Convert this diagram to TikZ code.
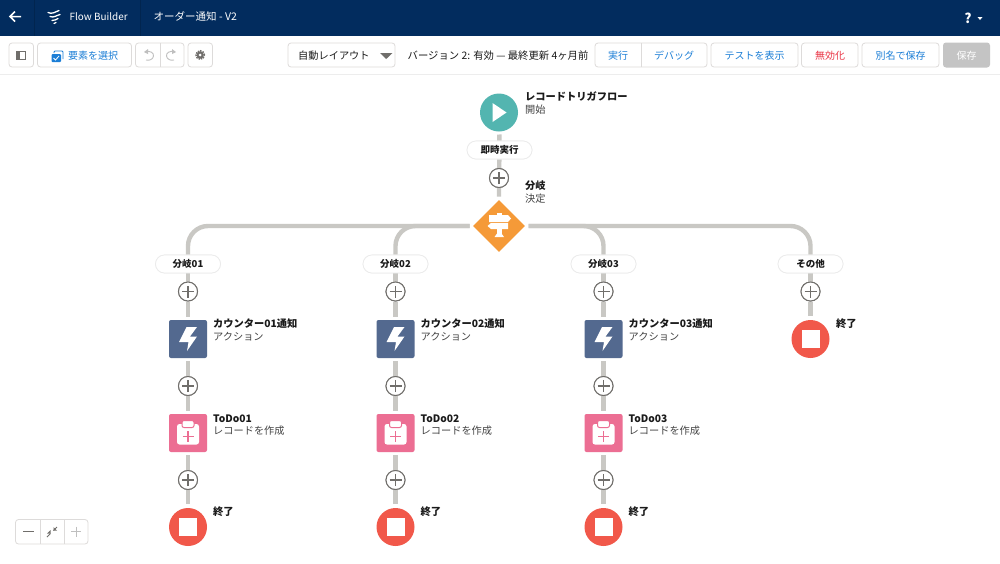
\documentclass[tikz,border=0pt]{standalone}
\usepackage{fontspec}
\setmainfont{Noto Sans CJK JP}
\usetikzlibrary{shapes.geometric}
\definecolor{navy}{HTML}{022C5E}
\definecolor{navyline}{HTML}{01254F}
\definecolor{btn}{HTML}{DDDBDA}
\definecolor{blue}{HTML}{1B7ED6}
\definecolor{wire}{HTML}{C9C8C4}
\definecolor{teal}{HTML}{53B5B0}
\definecolor{orange}{HTML}{F59A38}
\definecolor{slate}{HTML}{53698F}
\definecolor{pinkb}{HTML}{EC6E93}
\definecolor{redc}{HTML}{F1584A}
\definecolor{redt}{HTML}{EA3344}
\definecolor{txt}{HTML}{1A1A1A}
\definecolor{sub}{HTML}{444444}
\definecolor{grayi}{HTML}{706E6B}
\tikzset{
  btnbox/.style={draw=btn,line width=.8pt,rounded corners=3pt,fill=white},
  btxt/.style={font=\fontsize{10}{12}\selectfont,text=blue,inner sep=0pt},
  wireline/.style={draw=wire,line width=4.4pt},
  startc/.style={circle,fill=teal,minimum size=38pt,inner sep=0pt,outer sep=3pt},
  endc/.style={circle,fill=redc,minimum size=38pt,inner sep=0pt,outer sep=4pt},
  plusc/.style={circle,draw=grayi,line width=1pt,fill=white,minimum size=19pt,inner sep=0pt},
  pill/.style={rounded corners=9pt,draw=black!8,line width=.7pt,fill=white,minimum width=65pt,minimum height=18pt,inner sep=0pt,font=\fontsize{9.5}{11}\selectfont\bfseries,text=txt},
  diam/.style={diamond,fill=orange,minimum width=54pt,minimum height=54pt,inner sep=0pt,outer sep=2.5pt},
  actbox/.style={rounded corners=2pt,fill=slate,minimum size=38pt,inner sep=0pt,outer sep=3pt},
  todobox/.style={rounded corners=2pt,fill=pinkb,minimum size=38pt,inner sep=0pt,outer sep=3pt},
  title/.style={anchor=west,inner sep=0pt,font=\fontsize{10.25}{12}\selectfont\bfseries,text=txt},
  subt/.style={anchor=west,inner sep=0pt,font=\fontsize{10.2}{12}\selectfont,text=sub},
}
\newcommand{\plusmark}[1]{\draw[grayi,line width=1.1pt] ([xshift=-6pt]#1.center)--([xshift=6pt]#1.center) ([yshift=-6pt]#1.center)--([yshift=6pt]#1.center);}
\newcommand{\stopmark}[1]{\fill[white] ([shift={(-9pt,-9pt)}]#1.center) rectangle ([shift={(9pt,9pt)}]#1.center);}
\newcommand{\bolticon}[1]{\fill[white,shift={(#1.center)}] (-1.5,-12)--(9,-12)--(2,-2.5)--(9,-2.5)--(-1,12)--(0.5,3)--(-9,3)--cycle;}
\newcommand{\clipicon}[1]{\begin{scope}[shift={(#1.center)}]
  \fill[white,rounded corners=2.5pt] (-11,-9) rectangle (11,11.5);
  \filldraw[fill=white,draw=pinkb,line width=1pt,rounded corners=2pt] (-6,-12.5) rectangle (6,-5.5);
  \draw[pinkb,line width=1.3pt] (-5.5,3.5)--(5.5,3.5) (0,-2)--(0,9);
\end{scope}}
\begin{document}
\begin{tikzpicture}[x=1pt,y=-1pt]
\useasboundingbox (0,0) rectangle (1000,563);
\fill[white] (0,0) rectangle (1000,563);
% header
\fill[navy] (0,0) rectangle (1000,36);
\draw[navyline,line width=.7pt] (34.5,0)--(34.5,36) (140.5,0)--(140.5,36);
\draw[white,line width=1.5pt] (21,16.5)--(10,16.5) (15,11.5)--(10,16.5)--(15,21.5);
\draw[white,line width=1.3pt,line cap=round] (48,12.5)..controls (52,14.5) and (55,12)..(59,10.5) (50,16.5)..controls (54,18) and (56,15.5)..(60,14.5) (52,20.5)..controls (55,21) and (56,19)..(58,18.5) (54,23.5)--(56,22.5);
\node[anchor=west,inner sep=0pt,text=white,font=\fontsize{9.9}{11}\selectfont] (app) at (69.5,16.5) {Flow Builder};
\node[anchor=west,inner sep=0pt,text=white,font=\fontsize{10.5}{12}\selectfont] (ttl) at (153.5,16.5) {オーダー通知 - V2};
\node[inner sep=0pt,text=white,font=\fontsize{13.5}{14}\selectfont\bfseries] (help) at (968,18.5) {?};
\fill[white] (977.5,17)--(982.5,17)--(980,20)--cycle;
% toolbar
\fill[black!7] (0,73.5) rectangle (1000,75);
\draw[btnbox] (9,43) rectangle (33.5,67);
\draw[grayi,line width=.8pt] (16.5,51) rectangle (25.5,59);
\fill[grayi] (16.5,51) rectangle (20,59);
\draw[btnbox] (37.5,43) rectangle (131.5,67);
\fill[blue,rounded corners=1pt] (51.5,54) rectangle (61,62);
\draw[blue,line width=.9pt,rounded corners=1pt] (54,53)--(54,51)--(63,51)--(63,59);
\draw[white,line width=.8pt] (53.5,58)--(55.5,60)--(59,56);
\node[btxt,anchor=west] (sel) at (68,55.5) {要素を選択};
\draw[btnbox] (135.5,43) rectangle (184,67);
\draw[btn,line width=.8pt] (160,43)--(160,67);
\draw[black!25,line width=.9pt] (145,52)..controls (150,50) and (154,53)..(153.5,56)..controls (153,59) and (150,61)..(146,60);
\fill[black!25] (144,52)--(148,49)--(148,54)--cycle;
\draw[black!25,line width=.9pt] (175,52)..controls (170,50) and (166,53)..(166.5,56)..controls (167,59) and (170,61)..(174,60);
\fill[black!25] (176,52)--(172,49)--(172,54)--cycle;
\draw[btnbox] (188,43) rectangle (212.5,67);
\fill[grayi] (200.2,55) circle (3.6pt);
\draw[grayi,line width=1.5pt,densely dotted] (200.2,55) circle (4.2pt);
\fill[white] (200.2,55) circle (1.5pt);
\draw[btnbox] (288,43) rectangle (395,67);
\node[anchor=west,inner sep=0pt,text=txt,font=\fontsize{10.2}{12}\selectfont] (lay) at (298,55.5) {自動レイアウト};
\fill[grayi] (380,53)--(392.5,53)--(386.2,59)--cycle;
\node[anchor=west,inner sep=0pt,text=txt,font=\fontsize{10.35}{12}\selectfont] (ver) at (407.5,55.5) {バージョン 2: 有効 — 最終更新 4ヶ月前};
\draw[btnbox] (595,43) rectangle (707,67);
\draw[btn,line width=.8pt] (641,43)--(641,67);
\node[btxt] (run) at (618,55.5) {実行};
\node[btxt] (dbg) at (674,55.5) {デバッグ};
\draw[btnbox] (711,43) rectangle (798,67);
\node[btxt] (tst) at (754.5,55.5) {テストを表示};
\draw[btnbox] (801.5,43) rectangle (858,67);
\node[btxt,text=redt] (dis) at (830,55.5) {無効化};
\draw[btnbox] (862,43) rectangle (939,67);
\node[btxt] (sas) at (900.5,55.5) {別名で保存};
\fill[black!23,rounded corners=3pt] (943,42.5) rectangle (990,67.5);
\node[btxt,text=white] (sav) at (966.5,55.5) {保存};
% flow nodes
\node[startc] (start) at (499,112.5) {};
\node[pill] (imm) at (499.5,150) {};
\node[plusc] (p0) at (499,178) {};
\node[diam] (dec) at (499,226) {};
\foreach \n/\x in {a/188,b/395.5,c/603.5,d/810.5}{
  \node[pill] (pill\n) at (\x,264) {};
  \node[plusc] (p1\n) at (\x,291.5) {};
}
\foreach \n/\x in {a/188,b/395.5,c/603.5}{
  \node[actbox] (act\n) at (\x,339) {};
  \node[plusc] (p2\n) at (\x,386) {};
  \node[todobox] (todo\n) at (\x,433) {};
  \node[plusc] (p3\n) at (\x,480) {};
  \node[endc] (end\n) at (\x,527) {};
}
\node[endc] (endd) at (810.5,339) {};
% connectors
\path[wireline] (start)--(imm) (imm)--(p0) (p0)--(dec);
\path[wireline,rounded corners=20pt] (dec.west)-|(pilla.north);
\path[wireline,rounded corners=20pt] (dec.west)-|(pillb.north);
\path[wireline,rounded corners=20pt] (dec.east)-|(pillc.north);
\path[wireline,rounded corners=20pt] (dec.east)-|(pilld.north);
\foreach \n in {a,b,c}{
  \path[wireline] (pill\n)--(p1\n) (p1\n)--(act\n) (act\n)--(p2\n) (p2\n)--(todo\n) (todo\n)--(p3\n) (p3\n)--(end\n);
}
\path[wireline] (pilld)--(p1d) (p1d)--(endd);
% redraw on top
\node[pill] at (imm) {即時実行};
\node[plusc] at (p0) {}; \plusmark{p0}
\node[pill] at (pilla) {分岐01};
\node[pill] at (pillb) {分岐02};
\node[pill] at (pillc) {分岐03};
\node[pill] at (pilld) {その他};
\foreach \n in {a,b,c,d}{ \node[plusc] at (p1\n) {}; \plusmark{p1\n} }
\foreach \n in {a,b,c}{
  \node[plusc] at (p2\n) {}; \plusmark{p2\n}
  \node[plusc] at (p3\n) {}; \plusmark{p3\n}
  \bolticon{act\n}
  \clipicon{todo\n}
  \stopmark{end\n}
}
\stopmark{endd}
% start icon
\fill[white,shift={(start.center)}] (-6.5,-9.5)--(7.5,0)--(-6.5,9.5)--cycle;
% decision icon
\begin{scope}[shift={(dec.center)}]
  \fill[white] (-10,-11)--(9,-11)--(12,-7.5)--(9,-4)--(-10,-4)--cycle;
  \fill[white] (-8,-3)--(9,-3)--(9,3)--(-8,3)--(-11.5,0)--cycle;
  \fill[white] (-2,-13.5) rectangle (2.5,-11);
  \fill[white] (-2,3) rectangle (2.5,8);
  \fill[white] (-4.5,11)--(-2,7.5)--(2.5,7.5)--(5,11)--cycle;
\end{scope}
% labels
\node[title] (t0) at (525,96.5) {レコードトリガフロー};
\node[subt] (s0) at (525,109.5) {開始};
\node[title] (t1) at (525,185.5) {分岐};
\node[subt] (s1) at (525,198.5) {決定};
\foreach \n/\x/\k in {a/213/01,b/420.5/02,c/628.5/03}{
  \node[title] (ta\n) at (\x,323.5) {カウンター\k 通知};
  \node[subt] (sa\n) at (\x,336.5) {アクション};
  \node[title] (tt\n) at (\x,418.5) {ToDo\k};
  \node[subt] (st\n) at (\x,430.5) {レコードを作成};
  \node[title] (te\n) at (\x,511.5) {終了};
}
\node[title] (ted) at (836,323.5) {終了};
% zoom control
\draw[btnbox] (15.5,519.5) rectangle (88,544);
\draw[btn,line width=.8pt] (40,519.5)--(40,544) (64,519.5)--(64,544);
\draw[grayi,line width=1.2pt] (23,531.5)--(34,531.5);
\draw[grayi,line width=.9pt] (47,537)--(50.5,533.5) (53.5,530.5)--(57,527);
\fill[grayi] (50.5,533.5)--(50.5,530)--(47,533.5)--cycle (53.5,530.5)--(57,530.5)--(53.5,527)--cycle;
\draw[black!25,line width=1pt] (71,531.5)--(81,531.5) (76,526.5)--(76,536.5);
\end{tikzpicture}
\end{document}
